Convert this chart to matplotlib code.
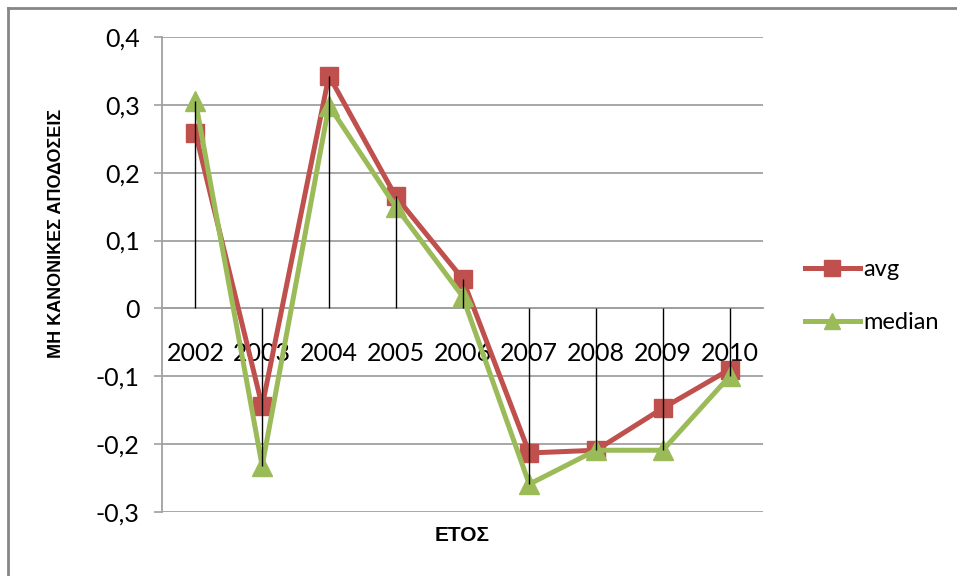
import numpy as np
import matplotlib
matplotlib.use("Agg")
from matplotlib import pyplot as plt
from matplotlib.lines import Line2D
from matplotlib.ticker import FuncFormatter

plt.rcParams["font.family"] = ["Lato", "Open Sans", "DejaVu Sans"]

# data
years = ["2002", "2003", "2004", "2005", "2006", "2007", "2008", "2009", "2010"]
avg = [0.259, -0.144, 0.343, 0.165, 0.044, -0.213, -0.209, -0.147, -0.090]
median = [0.306, -0.232, 0.299, 0.150, 0.018, -0.259, -0.209, -0.209, -0.100]

red = "#C0504D"
green = "#9BBB59"
grid_col = "#A0A0A0"

fig = plt.figure(figsize=(9.57, 5.76), dpi=100)
ax = fig.add_axes([162 / 957, 1 - 512 / 576, 601 / 957, 475 / 576])

x = np.arange(len(years))

# lines with markers
ax.plot(x, avg, color=red, lw=3.6, marker="s", ms=13, label="avg", zorder=3)
ax.plot(x, median, color=green, lw=3.6, marker="^", ms=14, label="median", zorder=4)

# drop lines from the axis to the outermost point of each year
a = np.array(avg)
m = np.array(median)
far = np.where(np.abs(a) > np.abs(m), a, m)
ax.vlines(x, 0, far, color="black", lw=1, zorder=5)

# axes
ax.set_xlim(-0.5, len(years) - 0.5)
ax.set_ylim(-0.3, 0.4)
ax.set_yticks(np.arange(-0.3, 0.41, 0.1))
ax.yaxis.set_major_formatter(
    FuncFormatter(lambda v, p: "0" if abs(v) < 1e-9 else ("%.1f" % v).replace(".", ","))
)
ax.set_xticks(x)
ax.set_xticklabels(years)
ax.grid(axis="y", color=grid_col, lw=1.3)
ax.set_axisbelow(True)

for s in ["top", "right"]:
    ax.spines[s].set_visible(False)
ax.spines["bottom"].set_position(("data", 0))
ax.spines["bottom"].set_color(grid_col)
ax.spines["bottom"].set_linewidth(1.3)
ax.spines["left"].set_color(grid_col)
ax.spines["left"].set_linewidth(1.3)

ax.tick_params(axis="x", length=0, pad=24, labelsize=18, colors="black")
ax.tick_params(axis="y", length=6, width=1.2, color=grid_col, pad=10, labelsize=18)

greek = ["Liberation Sans", "DejaVu Sans"]
ax.set_ylabel("ΜΗ ΚΑΝΟΝΙΚΕΣ ΑΠΟΔΟΣΕΙΣ", fontsize=13, fontweight="bold", family=greek)
ax.yaxis.set_label_coords(-0.162, 0.587)
ax.set_xlabel("ΕΤΟΣ", fontsize=15, fontweight="bold", family=greek)
ax.xaxis.set_label_coords(0.5, -0.03)

ax.legend(
    loc="center left",
    bbox_to_anchor=(1.035, 0.455),
    frameon=False,
    fontsize=17,
    handlelength=2.3,
    handletextpad=0.15,
    labelspacing=1.35,
    markerscale=0.85,
)

# outer chart border
fig.add_artist(Line2D([8 / 957, 1], [1 - 8 / 576, 1 - 8 / 576], color="#868686", lw=2))
fig.add_artist(Line2D([8 / 957, 8 / 957], [0, 1 - 8 / 576], color="#868686", lw=2))

fig.savefig("out.png", dpi=100)
